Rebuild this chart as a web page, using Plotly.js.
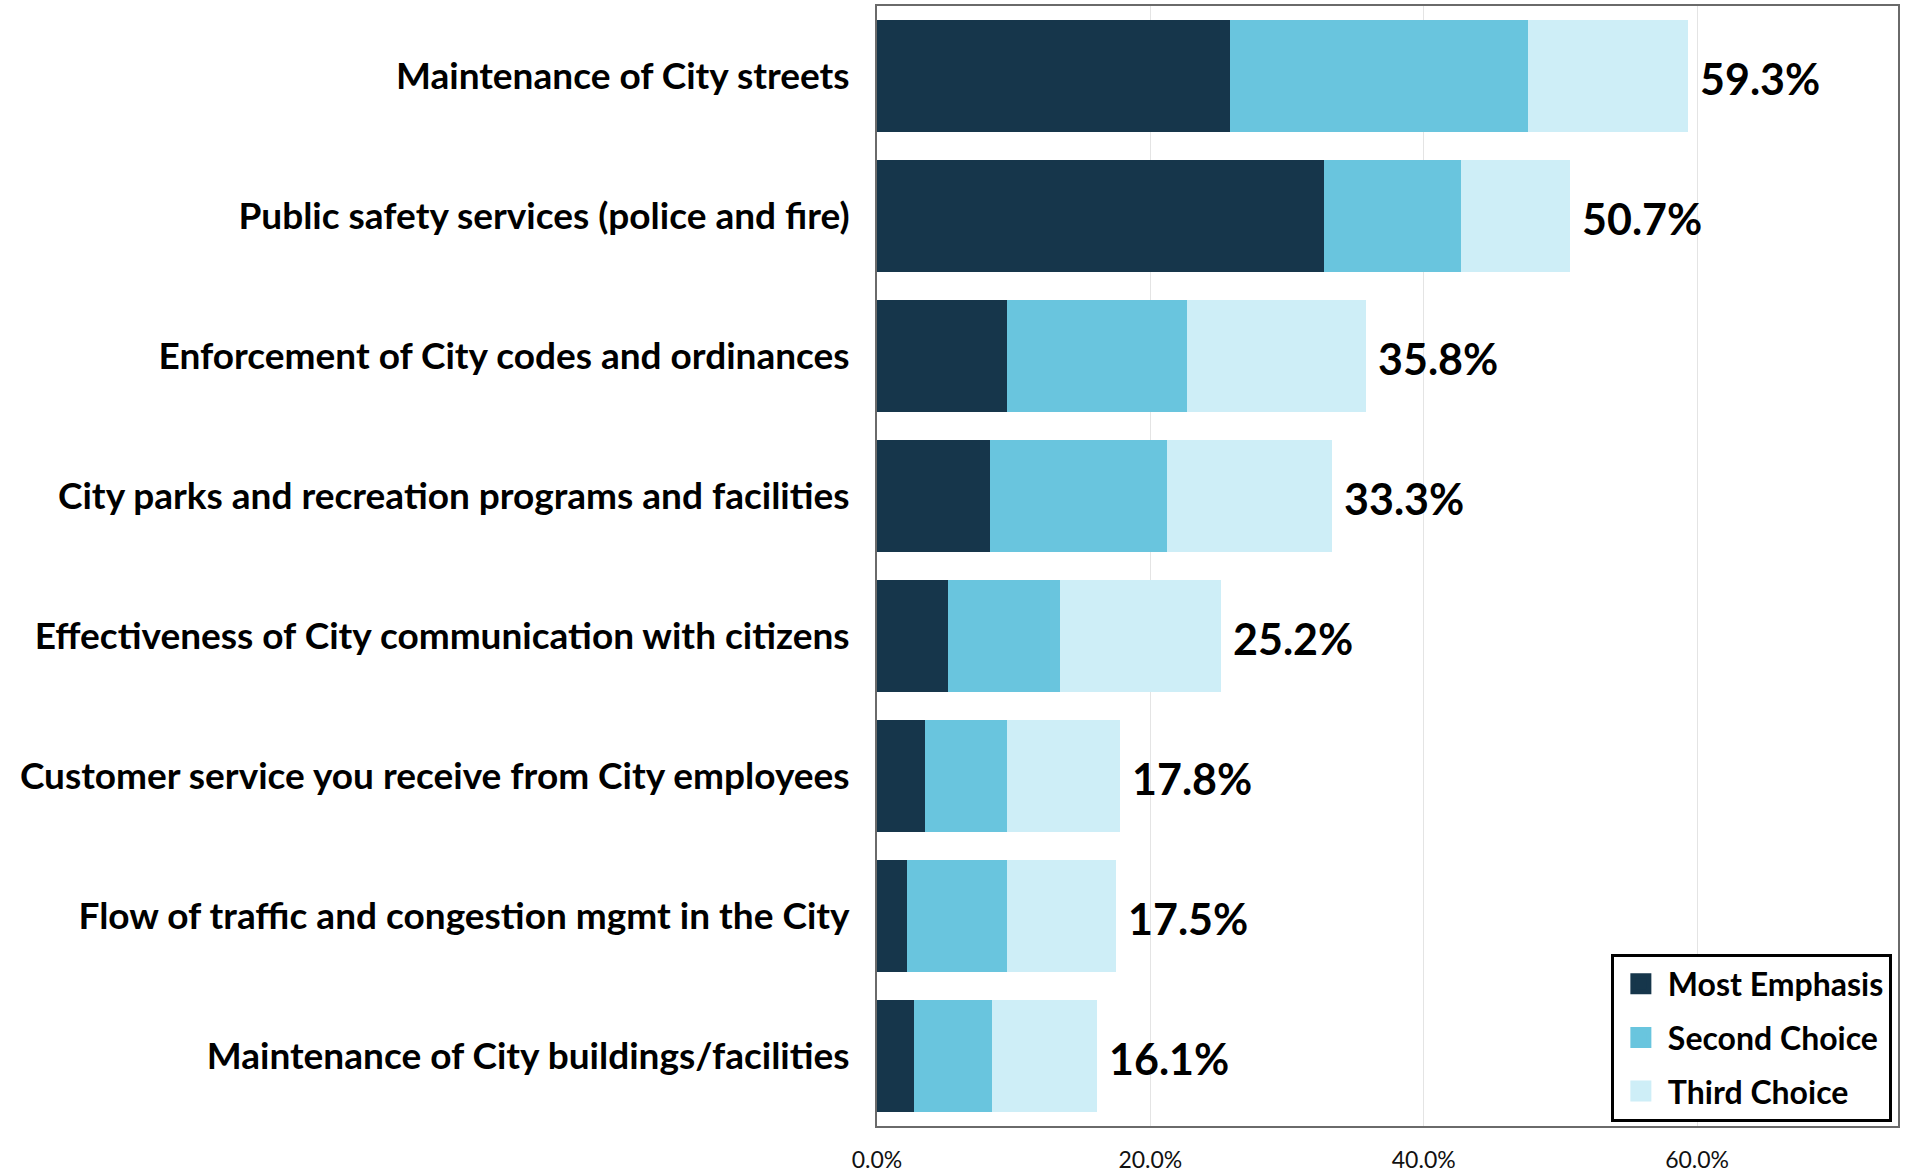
<!DOCTYPE html>
<html>
<head>
<meta charset="utf-8">
<script src="https://cdn.plot.ly/plotly-3.0.1.min.js"></script>
<style>html,body{margin:0;padding:0;background:#fff;}#chart{width:1905px;height:1173px;}</style>
</head>
<body>
<div id="chart"></div>
<script>
const categories = [
  "Maintenance of City streets",
  "Public safety services (police and fire)",
  "Enforcement of City codes and ordinances",
  "City parks and recreation programs and facilities",
  "Effectiveness of City communication with citizens",
  "Customer service you receive from City employees",
  "Flow of traffic and congestion mgmt in the City",
  "Maintenance of City buildings/facilities"
];
const mostEmphasis = [25.8, 32.7, 9.5, 8.3, 5.2, 3.5, 2.2, 2.7];
const secondChoice = [21.8, 10.0, 13.2, 12.9, 8.2, 6.0, 7.3, 5.7];
const thirdChoice  = [11.7, 8.0, 13.1, 12.1, 11.8, 8.3, 8.0, 7.7];
const totals       = [59.3, 50.7, 35.8, 33.3, 25.2, 17.8, 17.5, 16.1];
const tickValues   = [0, 20, 40, 60];
const tickLabels   = ["0.0%", "20.0%", "40.0%", "60.0%"];

const seriesNames  = ["Most Emphasis", "Second Choice", "Third Choice"];
const seriesColors = ["#16364b", "#69c5de", "#ceeef7"];
const seriesData   = [mostEmphasis, secondChoice, thirdChoice];

const traces = seriesData.map((vals, i) => ({
  type: "bar",
  orientation: "h",
  name: seriesNames[i],
  legendgroup: "g" + i,
  showlegend: false,
  x: vals,
  y: categories,
  marker: {color: seriesColors[i], line: {width: 0}},
  hoverinfo: "x+name"
}));

// legend-only entries with larger square swatches
seriesNames.forEach((nm, i) => {
  traces.push({
    type: "scatter",
    mode: "markers",
    name: nm,
    legendgroup: "g" + i,
    showlegend: true,
    x: [null],
    y: [null],
    marker: {symbol: "square", size: 16, color: seriesColors[i], line: {color: seriesColors[i], width: 5}},
    hoverinfo: "skip"
  });
});

const annotations = totals.map((t, i) => ({
  x: t,
  y: categories[i],
  xref: "x",
  yref: "y",
  text: t.toFixed(1) + "%",
  showarrow: false,
  xanchor: "left",
  yanchor: "middle",
  xshift: 10,
  yshift: -2,
  font: {family: "Lato", size: 43, color: "#000", weight: 700}
}));

const layout = {
  width: 1905,
  height: 1173,
  margin: {l: 877, r: 7, t: 6, b: 47, pad: 0},
  paper_bgcolor: "#fff",
  plot_bgcolor: "#fff",
  barmode: "stack",
  bargap: 0.2,
  font: {family: "Lato", color: "#000"},
  xaxis: {
    range: [0, 74.7],
    tickvals: tickValues,
    ticktext: tickLabels,
    showgrid: true,
    gridcolor: "#e4e4e4",
    gridwidth: 1,
    zeroline: false,
    showline: true,
    mirror: true,
    linecolor: "#6a6a6a",
    linewidth: 2,
    ticks: "",
    ticklabelstandoff: 12,
    tickfont: {family: "Lato", size: 23, color: "#111"},
    fixedrange: true
  },
  yaxis: {
    type: "category",
    range: [7.5, -0.5],
    autorange: false,
    showgrid: false,
    zeroline: false,
    showline: true,
    mirror: true,
    linecolor: "#6a6a6a",
    linewidth: 2,
    ticks: "",
    ticklabelstandoff: 18,
    tickfont: {family: "Lato", size: 37, color: "#000", weight: 700},
    fixedrange: true
  },
  legend: {
    x: 0.994,
    y: 0.004,
    xanchor: "right",
    yanchor: "bottom",
    bgcolor: "#fff",
    bordercolor: "#000",
    borderwidth: 3,
    traceorder: "grouped",
    tracegroupgap: 9,
    itemsizing: "trace",
    font: {family: "Lato", size: 32, color: "#000", weight: 700},
    itemwidth: 44
  },
  annotations: annotations,
  showlegend: true
};

Plotly.newPlot("chart", traces, layout, {displayModeBar: false});
</script>
</body>
</html>
